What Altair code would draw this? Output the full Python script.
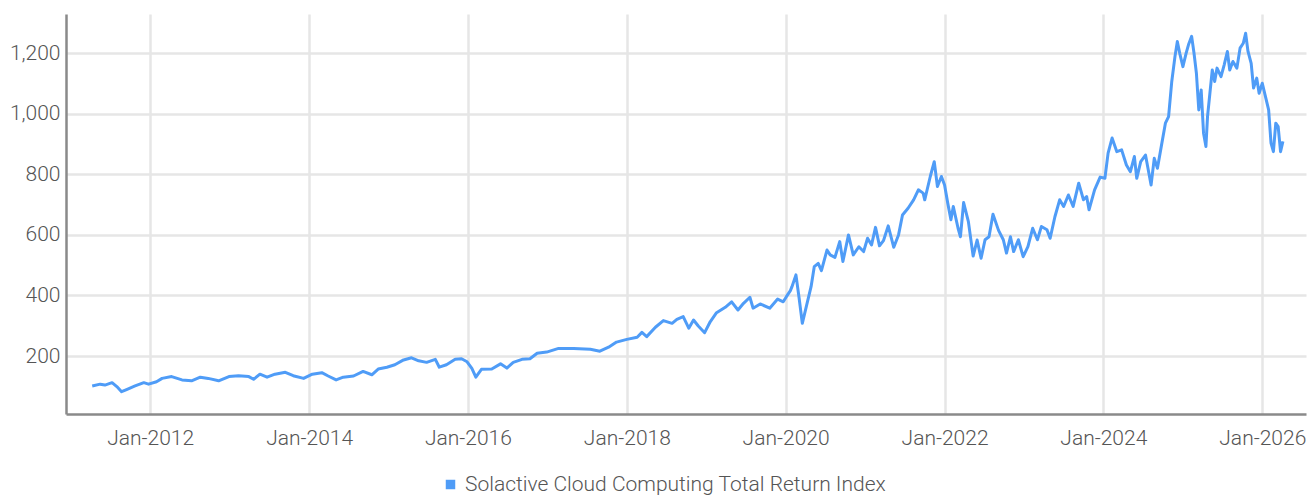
import altair as alt
import pandas as pd

SERIES = "Solactive Cloud Computing Total Return Index"

# decimal-year positions
years = [
    2011.27, 2011.37, 2011.43, 2011.52, 2011.58, 2011.64, 2011.71, 2011.81, 2011.92, 2011.98,
    2012.08, 2012.15, 2012.27, 2012.40, 2012.52, 2012.63, 2012.73, 2012.86, 2012.99,
    2013.11, 2013.24, 2013.30, 2013.38, 2013.47, 2013.57, 2013.70, 2013.80, 2013.93,
    2014.04, 2014.16, 2014.24, 2014.34, 2014.43, 2014.56, 2014.68, 2014.79, 2014.87, 2014.98,
    2015.08, 2015.19, 2015.29, 2015.38, 2015.48, 2015.59, 2015.64, 2015.73, 2015.84, 2015.92, 2015.99,
    2016.05, 2016.10, 2016.17, 2016.30, 2016.41, 2016.49, 2016.57, 2016.68, 2016.78, 2016.87, 2016.99,
    2017.14, 2017.33, 2017.54, 2017.66, 2017.77, 2017.87,
    2018.00, 2018.13, 2018.19, 2018.25, 2018.36, 2018.46, 2018.57, 2018.63, 2018.71, 2018.78, 2018.84, 2018.90, 2018.98,
    2019.05, 2019.13, 2019.24, 2019.32, 2019.40, 2019.47, 2019.55, 2019.59, 2019.68, 2019.80, 2019.90, 2019.97,
    2020.01, 2020.06, 2020.08, 2020.13, 2020.17, 2020.21, 2020.26, 2020.32, 2020.36, 2020.41, 2020.45,
    2020.52, 2020.56, 2020.62, 2020.68, 2020.72, 2020.79, 2020.85, 2020.92, 2020.98,
    2021.03, 2021.08, 2021.13, 2021.18, 2021.23, 2021.29, 2021.36, 2021.42, 2021.47, 2021.54,
    2021.61, 2021.67, 2021.73, 2021.75, 2021.82, 2021.87, 2021.91, 2021.96,
    2022.00, 2022.04, 2022.08, 2022.11, 2022.17, 2022.20, 2022.24, 2022.30, 2022.36, 2022.41,
    2022.46, 2022.51, 2022.56, 2022.61, 2022.68, 2022.74, 2022.78, 2022.83, 2022.87, 2022.93, 2022.99,
    2023.05, 2023.11, 2023.17, 2023.22, 2023.29, 2023.33, 2023.39, 2023.45, 2023.50, 2023.56,
    2023.62, 2023.69, 2023.75, 2023.79, 2023.82, 2023.89, 2023.96,
    2024.02, 2024.06, 2024.11, 2024.17, 2024.23, 2024.29, 2024.34, 2024.39, 2024.42, 2024.47,
    2024.53, 2024.60, 2024.64, 2024.68, 2024.73, 2024.78, 2024.82, 2024.86, 2024.90, 2024.93, 2024.96,
    2025.00, 2025.04, 2025.07, 2025.11, 2025.14, 2025.17, 2025.20, 2025.23, 2025.26, 2025.29,
    2025.31, 2025.34, 2025.37, 2025.40, 2025.43, 2025.48, 2025.52, 2025.56, 2025.59, 2025.63,
    2025.68, 2025.72, 2025.76, 2025.79, 2025.82, 2025.86, 2025.89, 2025.93, 2025.96,
    2026.00, 2026.04, 2026.08, 2026.11, 2026.14, 2026.17, 2026.20, 2026.23, 2026.26,
]

values = [
    101, 107, 104, 112, 99, 82, 90, 101, 112, 107,
    115, 126, 132, 121, 118, 130, 126, 118, 132,
    135, 132, 123, 140, 130, 140, 146, 135, 126,
    140, 145, 134, 121, 130, 134, 149, 138, 157, 163,
    171, 187, 194, 184, 179, 189, 163, 171, 189, 191, 181,
    159, 130, 156, 157, 174, 160, 179, 189, 191, 209, 213,
    225, 225, 222, 216, 229, 246,
    255, 262, 278, 264, 295, 317, 308, 321, 330, 292, 319, 299, 277,
    313, 343, 361, 379, 352, 374, 394, 358, 372, 358, 388, 379,
    396, 416, 429, 468, 391, 308, 363, 429, 495, 506, 482,
    550, 534, 526, 578, 512, 600, 534, 561, 545,
    589, 567, 625, 564, 581, 630, 559, 600, 666, 688,
    716, 749, 738, 716, 793, 842, 760, 793,
    765, 705, 650, 694, 622, 594, 707, 644, 530, 583,
    523, 584, 594, 668, 615, 584, 540, 594, 545, 584, 528,
    561, 622, 584, 628, 617, 589, 660, 716, 694, 732,
    694, 771, 716, 727, 683, 749, 791,
    787, 870, 920, 875, 881, 831, 809, 859, 787, 842,
    864, 765, 853, 820, 895, 969, 991, 1107, 1189, 1239, 1200,
    1156, 1200, 1228, 1256, 1200, 1134, 1013, 1079, 936, 892,
    991, 1068, 1145, 1107, 1151, 1123, 1162, 1206, 1145, 1173,
    1151, 1217, 1233, 1266, 1206, 1167, 1085, 1118, 1068,
    1101, 1057, 1013, 903, 875, 969, 958, 875, 909,
]

y_ticks = [200, 400, 600, 800, 1000, 1200]
x_tick_years = [2012, 2014, 2016, 2018, 2020, 2022, 2024, 2026]


def to_ts(y):
    yr = int(y)
    start = pd.Timestamp(yr, 1, 1)
    end = pd.Timestamp(yr + 1, 1, 1)
    return start + (end - start) * (y - yr)


df = pd.DataFrame({
    "date": [to_ts(y) for y in years],
    "value": values,
    "series": SERIES,
})

FONT = "Roboto"
WEIGHT = 300
BLUE = "#4f9cf7"
GRID = "#e6e6e6"
AXIS = "#8a8a8a"
TXT = "#555555"

chart = alt.Chart(df).mark_line(strokeWidth=3, interpolate="linear", strokeJoin="round").encode(
    x=alt.X(
        "date:T",
        title=None,
        scale=alt.Scale(domain=[alt.DateTime(year=2010, month=12, date=10),
                                alt.DateTime(year=2026, month=7, date=21)], nice=False),
        axis=alt.Axis(
            values=[alt.DateTime(year=y, month=1, date=1) for y in x_tick_years],
            format="%b-%Y",
            grid=True, gridColor=GRID, gridWidth=2.5,
            ticks=False, tickSize=0,
            domainColor=AXIS, domainWidth=2.5,
            labelFont=FONT, labelFontSize=21, labelColor=TXT,
            labelPadding=13, labelFontWeight=WEIGHT,
        ),
    ),
    y=alt.Y(
        "value:Q",
        title=None,
        scale=alt.Scale(domain=[8.4, 1329.8], nice=False, zero=False),
        axis=alt.Axis(
            values=y_ticks, format=",d",
            grid=True, gridColor=GRID, gridWidth=2.5,
            ticks=False, tickSize=0,
            domainColor=AXIS, domainWidth=2.5,
            labelFont=FONT, labelFontSize=21, labelColor=TXT,
            labelPadding=6, labelFontWeight=WEIGHT,
        ),
    ),
    color=alt.Color(
        "series:N",
        scale=alt.Scale(range=[BLUE]),
        legend=alt.Legend(
            title=None, orient="none", legendX=374, legendY=460,
            direction="horizontal",
            symbolType="square", symbolSize=90, symbolStrokeWidth=0,
            symbolFillColor=BLUE,
            labelFont=FONT, labelFontSize=21, labelColor=TXT, labelOffset=4,
            labelFontWeight=WEIGHT, labelLimit=0,
        ),
    ),
).properties(
    width=1240,
    height=400,
    padding={"left": 66, "top": 14, "right": 10, "bottom": 84},
    autosize=alt.AutoSizeParams(type="none"),
).configure_view(stroke=None)

chart.save("out.html", embed_options={"renderer": "svg", "actions": False})
